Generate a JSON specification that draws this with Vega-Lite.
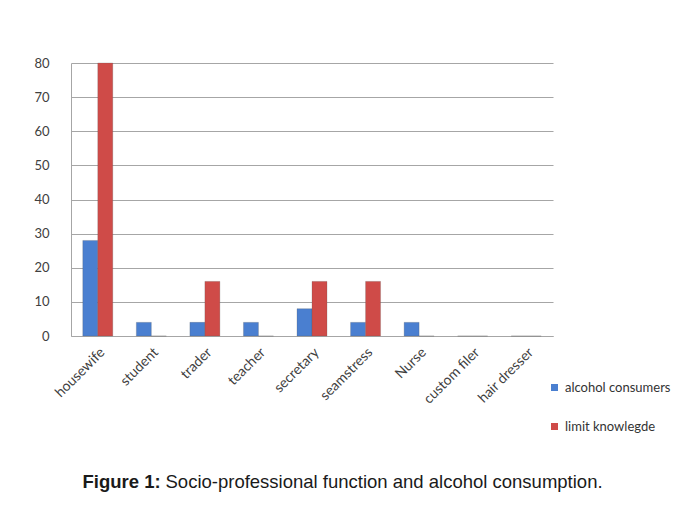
{
  "$schema": "https://vega.github.io/schema/vega-lite/v6.json",
  "width": 482,
  "height": 273,
  "autosize": "none",
  "padding": {"left": 71, "top": 63, "right": 128, "bottom": 172},
  "background": "white",
  "data": {
    "values": [
      {"job": "housewife", "series": "alcohol consumers", "value": 28},
      {"job": "housewife", "series": "limit knowlegde", "value": 80},
      {"job": "student", "series": "alcohol consumers", "value": 4},
      {"job": "student", "series": "limit knowlegde", "value": 0},
      {"job": "trader", "series": "alcohol consumers", "value": 4},
      {"job": "trader", "series": "limit knowlegde", "value": 16},
      {"job": "teacher", "series": "alcohol consumers", "value": 4},
      {"job": "teacher", "series": "limit knowlegde", "value": 0},
      {"job": "secretary", "series": "alcohol consumers", "value": 8},
      {"job": "secretary", "series": "limit knowlegde", "value": 16},
      {"job": "seamstress", "series": "alcohol consumers", "value": 4},
      {"job": "seamstress", "series": "limit knowlegde", "value": 16},
      {"job": "Nurse", "series": "alcohol consumers", "value": 4},
      {"job": "Nurse", "series": "limit knowlegde", "value": 0},
      {"job": "custom filer", "series": "alcohol consumers", "value": 0},
      {"job": "custom filer", "series": "limit knowlegde", "value": 0},
      {"job": "hair dresser", "series": "alcohol consumers", "value": 0},
      {"job": "hair dresser", "series": "limit knowlegde", "value": 0}
    ]
  },
  "mark": {"type": "bar", "cornerRadiusTop": 3, "strokeWidth": 0.6, "stroke": "#555555", "strokeOpacity": 0.4},
  "encoding": {
    "x": {
      "field": "job",
      "type": "nominal",
      "sort": null,
      "scale": {"paddingInner": 0.44, "paddingOuter": 0.22},
      "axis": {
        "labelAngle": -45,
        "labelFont": "Lato",
        "labelFontSize": 14,
        "labelColor": "#404040",
        "labelPadding": 9,
        "ticks": false,
        "domainColor": "#a6a6a6",
        "title": "Socio-professional function and alcohol consumption.",
        "titleX": 94,
        "titleY": 151,
        "titleAnchor": "start",
        "titleAlign": "left",
        "titleBaseline": "alphabetic",
        "titleAngle": 0,
        "titleFont": "Liberation Sans",
        "titleFontSize": 18.5,
        "titleFontWeight": "normal",
        "titleColor": "#1a1a1a"
      }
    },
    "xOffset": {"field": "series", "type": "nominal", "scale": {"paddingInner": 0, "paddingOuter": 0}},
    "y": {
      "field": "value",
      "type": "quantitative",
      "scale": {"domain": [0, 80]},
      "axis": {
        "values": [0, 10, 20, 30, 40, 50, 60, 70, 80],
        "labelFont": "Lato",
        "labelFontSize": 13,
        "labelColor": "#404040",
        "labelPadding": 22,
        "ticks": false,
        "domainColor": "#a6a6a6",
        "gridColor": "#a6a6a6",
        "gridWidth": 1.2,
        "title": "Figure 1:",
        "titleX": 11,
        "titleY": 424,
        "titleAngle": 0,
        "titleAnchor": "start",
        "titleAlign": "left",
        "titleBaseline": "alphabetic",
        "titleFont": "Liberation Sans",
        "titleFontSize": 18.5,
        "titleFontWeight": "bold",
        "titleColor": "#1a1a1a"
      }
    },
    "color": {
      "field": "series",
      "type": "nominal",
      "scale": {"domain": ["alcohol consumers", "limit knowlegde"], "range": ["#4a7fd0", "#cf4b48"]},
      "legend": {
        "title": null,
        "orient": "none",
        "legendX": 477,
        "legendY": 318,
        "symbolType": "square",
        "symbolSize": 49,
        "symbolStrokeWidth": 0,
        "labelFont": "Lato",
        "labelFontSize": 13,
        "labelColor": "#333333",
        "rowPadding": 25,
        "labelOffset": 4
      }
    }
  },
  "config": {"view": {"stroke": null}}
}
